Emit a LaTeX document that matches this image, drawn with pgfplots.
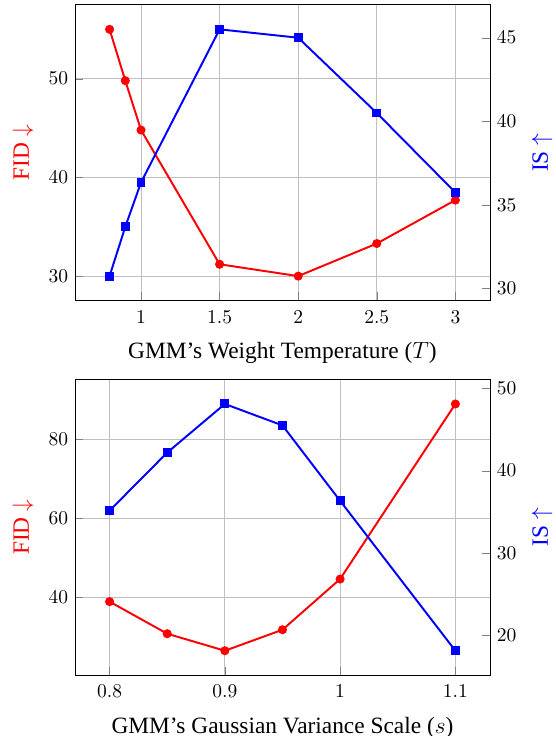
\documentclass[border=0pt]{standalone}
\usepackage{fontspec}
\setmainfont{Liberation Serif}
\usepackage{pgfplots}
\pgfplotsset{compat=1.18}

\pgfplotsset{
  twin/.style={
    width=213pt,
    height=152pt,
    scale only axis,
    label style={font=\large},
    ylabel shift=1pt,
    xticklabel style={yshift=-1.5pt},
    xlabel style={yshift=-3pt},
  },
}

\begin{document}
\begin{tikzpicture}
% top: weight temperature
\begin{axis}[
  twin,
  tick pos=left,
  grid=major,
  xtick={1,1.5,2,2.5,3},
  ytick={30,40,50},
  xlabel={GMM's Weight Temperature ($T$)},
  ylabel={FID $\downarrow$},
  ylabel style={red},
]
  \addplot[red, line width=1pt, mark=*, mark size=1.8pt] coordinates {
    (0.8, 55.0) (0.9, 49.8) (1.0, 44.8) (1.5, 31.2) (2.0, 30.0) (2.5, 33.3) (3.0, 37.7)
  };
\end{axis}
\begin{axis}[
  twin,
  axis x line=none,
  axis y line*=right,
  ytick={30,35,40,45},
  ylabel={IS $\uparrow$},
  ylabel style={blue},
]
  \addplot[blue, line width=1pt, mark=square*, mark size=1.8pt] coordinates {
    (0.8, 30.75) (0.9, 33.7) (1.0, 36.35) (1.5, 45.5) (2.0, 45.0) (2.5, 40.5) (3.0, 35.75)
  };
\end{axis}

% bottom: gaussian variance scale
\begin{axis}[
  twin,
  at={(0,-192.3pt)},
  tick pos=left,
  grid=major,
  xtick={0.8,0.9,1,1.1},
  ytick={40,60,80},
  xlabel={GMM's Gaussian Variance Scale ($s$)},
  ylabel={FID $\downarrow$},
  ylabel style={red},
]
  \addplot[red, line width=1pt, mark=*, mark size=1.8pt] coordinates {
    (0.8, 39.0) (0.85, 30.9) (0.9, 26.6) (0.95, 31.9) (1.0, 44.7) (1.1, 88.9)
  };
\end{axis}
\begin{axis}[
  twin,
  at={(0,-192.3pt)},
  axis x line=none,
  axis y line*=right,
  ytick={20,30,40,50},
  ylabel={IS $\uparrow$},
  ylabel style={blue},
]
  \addplot[blue, line width=1pt, mark=square*, mark size=1.8pt] coordinates {
    (0.8, 35.15) (0.85, 42.2) (0.9, 48.1) (0.95, 45.5) (1.0, 36.35) (1.1, 18.15)
  };
\end{axis}
% page frame cut as in the reference
\pgfresetboundingbox
\path[use as bounding box] (-38.5pt,-223.4pt) rectangle (246.4pt,154.4pt);
\end{tikzpicture}
\end{document}
